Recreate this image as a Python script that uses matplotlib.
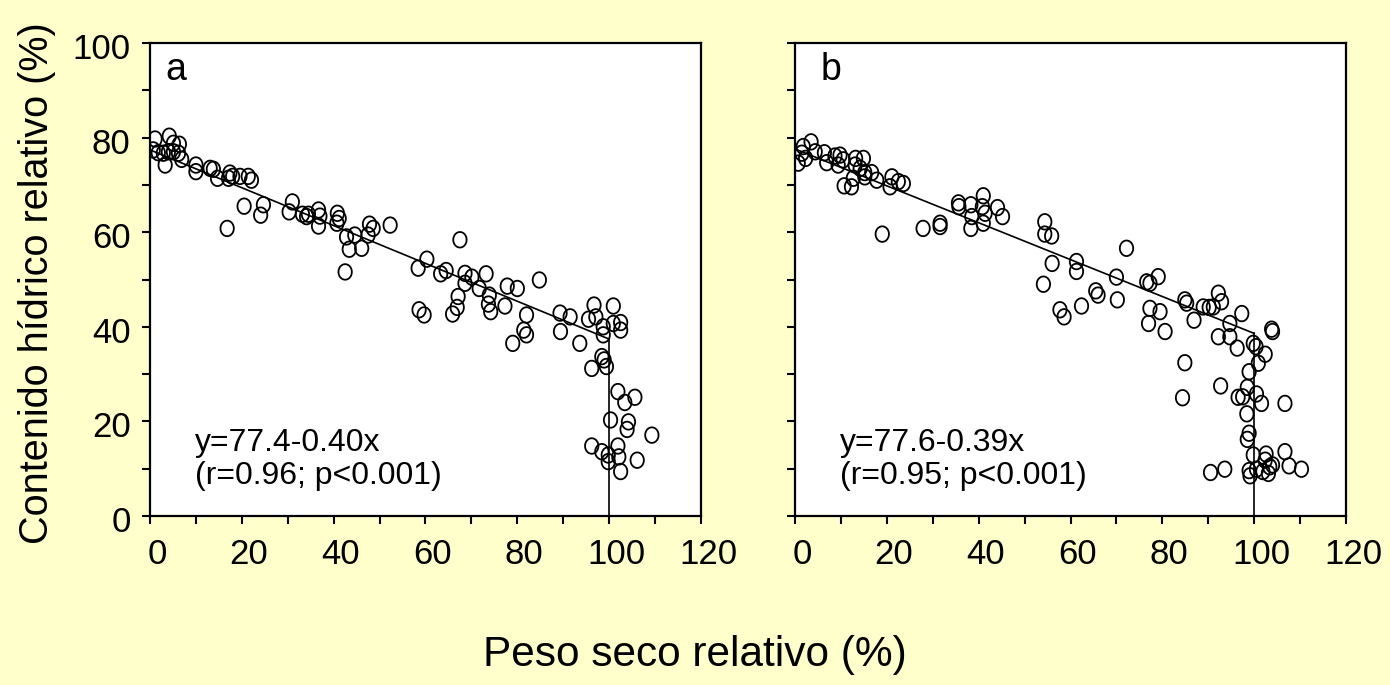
"""
Relative water content vs relative dry weight, two panels (a, b).
"""
import matplotlib
matplotlib.use("Agg")
import numpy as np
import matplotlib.pyplot as plt
from matplotlib.path import Path
from matplotlib.ticker import MultipleLocator
from matplotlib.transforms import ScaledTranslation

plt.rcParams["font.family"] = ["Liberation Sans", "DejaVu Sans"]

# ---------------------------------------------------------------------------
# Data
# ---------------------------------------------------------------------------
a_x = [1.1, 4.2, 6.4, 5.1, 0.7, 1.8, 2.9, 4.0, 5.1, 3.3, 6.9, 6.2,
       10.0, 10.0, 13.1, 13.8, 14.7, 17.4, 18.0, 17.1, 19.6, 21.4, 22.1,
       20.5, 16.8, 24.7, 24.1, 31.0, 30.3, 33.2, 34.1, 34.5, 36.7, 37.0,
       36.7, 40.8, 41.2, 40.7, 42.8, 44.6, 43.4, 46.1, 47.8, 48.6, 47.5,
       52.3, 42.5, 58.4, 67.5, 60.3, 63.3, 64.5, 68.6, 70.1, 73.2, 68.6,
       71.7, 73.9, 73.7, 74.2, 67.1, 66.9, 65.9, 58.6, 59.7, 77.8, 80.0,
       84.8, 77.3, 82.0, 81.4, 82.0, 79.0, 89.3, 91.5, 89.4, 93.6, 96.7,
       97.1, 95.5, 98.7, 98.7, 100.9, 100.9, 102.5, 102.5, 98.4, 98.9,
       96.2, 99.4, 101.9, 103.4, 105.6, 100.3, 104.2, 103.9, 109.3, 96.2,
       98.4, 99.8, 99.8, 101.9, 102.1, 102.5, 106.1]
a_y = [79.7, 80.3, 78.6, 78.8, 77.4, 76.8, 76.7, 77.0, 77.0, 74.2, 75.4, 76.7,
       74.2, 72.8, 73.5, 73.3, 71.4, 72.5, 71.8, 71.4, 71.8, 71.8, 71.0,
       65.5, 60.8, 65.8, 63.6, 66.4, 64.3, 63.8, 63.3, 63.8, 64.7, 63.4,
       61.3, 64.0, 62.9, 61.9, 59.0, 59.4, 56.4, 56.6, 61.7, 60.8, 59.4,
       61.5, 51.6, 52.4, 58.4, 54.3, 51.2, 51.9, 51.3, 50.5, 51.2, 49.2,
       48.1, 46.7, 44.8, 43.2, 46.4, 44.1, 42.7, 43.6, 42.5, 48.6, 48.1,
       49.9, 44.4, 42.5, 39.3, 38.3, 36.5, 42.9, 42.1, 39.0, 36.5, 44.6,
       42.1, 41.6, 40.0, 38.3, 44.4, 40.7, 40.9, 39.3, 33.7, 33.0,
       31.2, 31.6, 26.3, 24.0, 25.1, 20.3, 19.9, 18.3, 17.1, 14.8,
       13.6, 12.9, 11.5, 14.8, 12.5, 9.4, 11.8]

b_x = [0.7, 1.5, 1.8, 2.3, 3.5, 4.4, 6.4, 6.9, 8.7, 9.8, 9.4, 10.5, 13.2,
       14.9, 13.1, 14.2, 15.2, 16.7, 12.7, 15.2, 10.7, 12.3, 17.8, 21.1,
       20.7, 22.5, 23.6, 19.0, 27.9, 31.6, 31.6, 35.6, 35.7, 38.3, 41.0,
       40.8, 41.4, 38.5, 38.3, 41.0, 44.1, 45.2, 54.4, 54.4, 55.9, 56.0,
       54.1, 61.3, 61.3, 72.2, 70.0, 57.7, 58.6, 62.4, 65.5, 66.0, 70.2,
       76.6, 77.3, 79.1, 77.3, 79.5, 77.0, 80.6, 84.9, 85.3, 86.9, 88.9,
       90.2, 91.1, 92.2, 92.9, 94.7, 92.2, 94.7, 96.3, 97.3, 99.8, 100.4,
       102.4, 100.9, 98.9, 103.8, 104.0, 84.9, 92.7, 84.4, 96.5, 97.5,
       98.5, 100.5, 101.6, 106.7, 98.4, 98.9, 98.5, 99.8, 102.6, 102.4,
       106.7, 107.6, 110.3, 90.5, 93.6, 98.9, 99.1, 100.5, 101.9, 103.4,
       104.0, 103.1]
b_y = [74.6, 76.7, 78.1, 75.6, 79.1, 77.0, 76.8, 74.7, 76.1, 76.3, 74.2, 75.3,
       75.6, 75.6, 74.2, 73.5, 72.6, 72.6, 71.4, 71.7, 69.8, 69.6, 71.0,
       71.7, 69.6, 70.7, 70.3, 59.6, 60.8, 61.9, 61.2, 66.2, 65.4, 65.8,
       67.7, 65.4, 64.0, 63.3, 60.8, 61.9, 65.2, 63.3, 62.2, 59.6, 59.2,
       53.4, 49.0, 53.8, 51.7, 56.6, 50.5, 43.6, 42.1, 44.4, 47.6, 46.7,
       45.7, 49.5, 49.2, 50.6, 43.9, 43.2, 40.7, 39.0, 45.7, 45.0, 41.4,
       44.2, 44.1, 44.2, 47.1, 45.3, 40.7, 37.9, 37.9, 35.5, 42.8, 36.5,
       35.8, 34.2, 32.3, 30.5, 39.5, 39.0, 32.4, 27.5, 25.0, 25.1, 25.2,
       27.2, 25.8, 23.8, 23.8, 21.6, 17.5, 16.2, 12.9, 13.1, 11.8, 13.6,
       10.6, 9.9, 9.2, 9.9, 9.6, 8.5, 9.9, 9.4, 10.4, 10.8, 9.0]

# Fitted lines: intercept, slope (segment up to the break at x=100)
a_fit = (77.4, -0.40)
b_fit = (77.6, -0.39)
x_break = 100

panel_labels = ["a", "b"]
fit_text = ["y=77.4-0.40x\n(r=0.96; p<0.001)",
            "y=77.6-0.39x\n(r=0.95; p<0.001)"]

x_ticks = [0, 20, 40, 60, 80, 100, 120]
y_ticks = [0, 20, 40, 60, 80, 100]

# ---------------------------------------------------------------------------
BG = "#FFFFCC"
W, H = 1390, 685

# slightly tall open circle, like the original marker
_t = np.linspace(0, 2 * np.pi, 60)
ELLIPSE = Path(np.column_stack([np.cos(_t) * 0.86, np.sin(_t)]), closed=True)

fig = plt.figure(figsize=(W / 100, H / 100), dpi=100, facecolor=BG)

ax_a = fig.add_axes([150 / W, 169 / H, 551 / W, 473 / H])
ax_b = fig.add_axes([795 / W, 169 / H, 551 / W, 473 / H])

panels = [(ax_a, a_x, a_y, a_fit), (ax_b, b_x, b_y, b_fit)]
label_x = [0.027, 0.047]

for i, (ax, xs, ys, fit) in enumerate(panels):
    ax.set_facecolor("white")
    b0, b1 = fit
    y_end = b0 + b1 * x_break
    ax.plot([0, x_break], [b0, y_end], color="black", lw=1.2, zorder=2)
    ax.plot([x_break, x_break], [y_end, 0], color="black", lw=1.2, zorder=2)
    ax.scatter(xs, ys, s=125, marker=ELLIPSE, facecolors="none",
               edgecolors="black", linewidths=1.3, zorder=3)

    ax.set_xlim(0, 120)
    ax.set_ylim(0, 100)
    ax.set_xticks(x_ticks)
    ax.set_yticks(y_ticks)
    ax.xaxis.set_minor_locator(MultipleLocator(10))
    ax.yaxis.set_minor_locator(MultipleLocator(10))
    ax.tick_params(which="both", direction="out", length=6, width=1.5,
                   labelsize=25, top=False, right=False)
    ax.tick_params(axis="x", which="major", pad=10)
    ax.tick_params(axis="y", which="major", pad=8)
    for sp in ax.spines.values():
        sp.set_linewidth(1.6)

    # original tick labels sit a little right of / below their ticks
    for lab in ax.get_xticklabels():
        lab.set_transform(lab.get_transform()
                          + ScaledTranslation(0.07, 0, fig.dpi_scale_trans))
    for lab in ax.get_yticklabels():
        lab.set_transform(lab.get_transform()
                          + ScaledTranslation(0, -0.03, fig.dpi_scale_trans))

    ax.text(label_x[i], 0.943, panel_labels[i], transform=ax.transAxes,
            fontsize=27, ha="left", va="center")
    ax.text(0.082, 0.12, fit_text[i], transform=ax.transAxes,
            fontsize=23, ha="left", va="center", linespacing=1.12)

ax_b.tick_params(axis="y", labelleft=False)

fig.text(37 / W, (H - 283) / H, "Contenido hídrico relativo (%)",
         rotation=90, fontsize=28.5, ha="center", va="center")
fig.text(0.5, (H - 655) / H, "Peso seco relativo (%)",
         fontsize=30.5, ha="center", va="center")

fig.savefig("out.png", dpi=100, facecolor=BG)
